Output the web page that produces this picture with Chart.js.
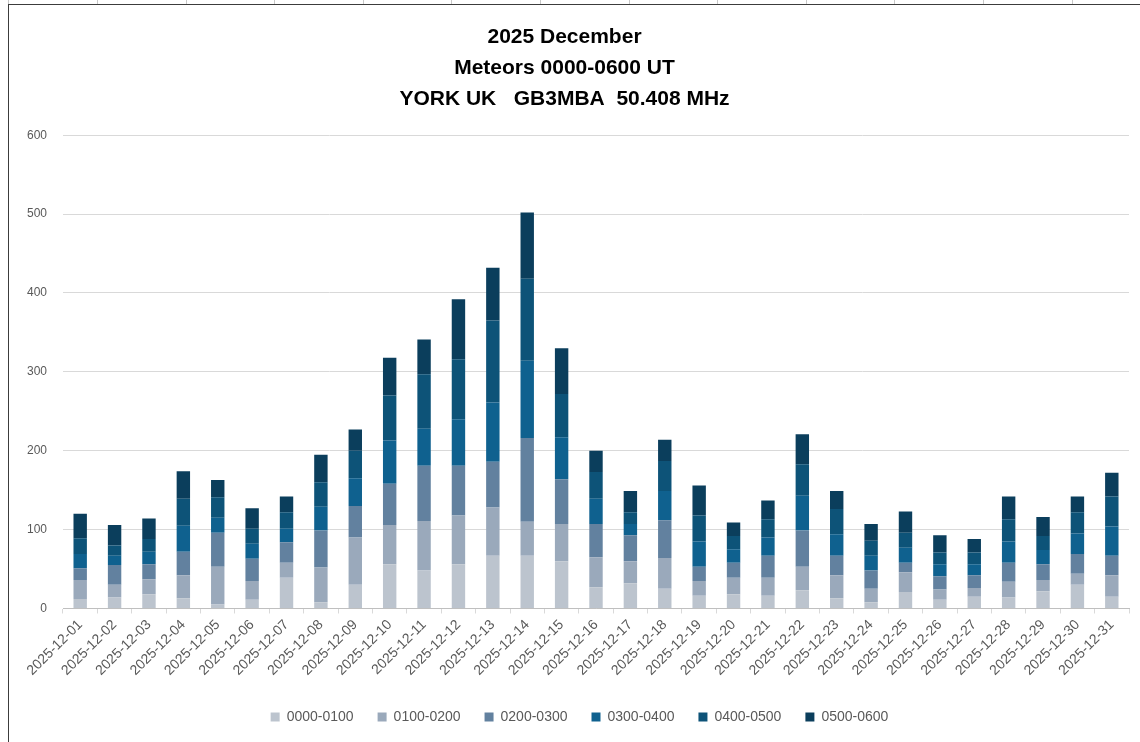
<!DOCTYPE html>
<html>
<head>
<meta charset="utf-8">
<title>Meteors December 2025</title>
<script src="https://cdn.jsdelivr.net/npm/chart.js@4.4.1/dist/chart.umd.min.js"></script>
<style>
  html, body { margin: 0; padding: 0; background: #fff; }
  body { width: 1140px; height: 742px; position: relative; overflow: hidden; }
  /* spreadsheet column lines peeking above the chart box */
  #cols {
    position: absolute; left: 0; top: 0; width: 1140px; height: 5px;
    background: repeating-linear-gradient(90deg, transparent 0 8.4px, #c8c8c8 8.4px 9.4px, transparent 9.4px 88.6px);
  }
  #box {
    position: absolute; left: 8px; top: 4px; width: 1140px; height: 745px;
    border: 1px solid #3c3c3c; background: #fff;
  }
  #myChart { position: absolute; left: 0; top: 0; }
</style>
</head>
<body>
<div id="cols"></div>
<div id="box"></div>
<canvas id="myChart" width="1140" height="742"></canvas>
<script>
// Dates of the month
const days = [
  "2025-12-01", "2025-12-02", "2025-12-03", "2025-12-04", "2025-12-05", "2025-12-06",
  "2025-12-07", "2025-12-08", "2025-12-09", "2025-12-10", "2025-12-11", "2025-12-12",
  "2025-12-13", "2025-12-14", "2025-12-15", "2025-12-16", "2025-12-17", "2025-12-18",
  "2025-12-19", "2025-12-20", "2025-12-21", "2025-12-22", "2025-12-23", "2025-12-24",
  "2025-12-25", "2025-12-26", "2025-12-27", "2025-12-28", "2025-12-29", "2025-12-30",
  "2025-12-31"
];

// Meteor counts per hour slot, one value per day
const h0000 = [12, 14, 18, 13, 5, 11, 39, 8, 30, 56, 48, 56, 67, 67, 60, 27, 32, 25, 16, 18, 16, 23, 13, 8, 21, 11, 15, 14, 22, 30, 15];
const h0100 = [24, 16, 19, 29, 48, 24, 19, 44, 60, 50, 63, 62, 61, 43, 47, 38, 28, 39, 19, 21, 23, 30, 29, 17, 25, 13, 11, 20, 14, 14, 27];
const h0200 = [15, 25, 19, 30, 43, 28, 26, 47, 40, 52, 70, 63, 58, 106, 57, 42, 33, 48, 18, 19, 28, 46, 25, 23, 12, 17, 16, 24, 20, 25, 25];
const h0300 = [18, 12, 16, 33, 19, 19, 17, 30, 35, 55, 47, 59, 75, 98, 53, 32, 14, 37, 32, 17, 23, 44, 27, 19, 19, 15, 14, 27, 18, 26, 37];
const h0400 = [20, 13, 16, 34, 26, 19, 21, 31, 35, 57, 69, 76, 104, 104, 55, 34, 15, 38, 33, 17, 23, 40, 32, 19, 19, 15, 15, 28, 18, 27, 38];
const h0500 = [31, 26, 26, 35, 22, 26, 20, 35, 27, 48, 44, 76, 67, 84, 58, 27, 27, 27, 38, 17, 24, 38, 23, 21, 27, 22, 17, 29, 24, 20, 30];

const slotNames = ["0000-0100", "0100-0200", "0200-0300", "0300-0400", "0400-0500", "0500-0600"];
const slotValues = [h0000, h0100, h0200, h0300, h0400, h0500];
const slotColors = ["#bcc4ce", "#9aa9bb", "#62819f", "#0f618f", "#0d5378", "#0b3e5c"];

const yTicks = [0, 100, 200, 300, 400, 500, 600];

const grey = "#595959";
const fontFamily = "'Liberation Sans', Arial, sans-serif";

let datasets = slotNames.map((name, i) => ({
    label: name,
    data: slotValues[i],
    backgroundColor: slotColors[i],
    borderWidth: 0,
    categoryPercentage: 1,
    barPercentage: 0.39
}));

// nudge the legend a bit to the right of the canvas centre
const legendShift = {
    id: "legendShift",
    afterLayout(chart) {
        chart.legend.left += 15;
        chart.legend.right += 15;
    }
};

new Chart("myChart", {
    type: "bar",
    data: { labels: days, datasets: datasets },
    plugins: [legendShift],
    options: {
        responsive: false,
        animation: false,
        layout: { padding: { left: 0, right: 11, top: 0, bottom: 8 } },
        plugins: {
            title: {
                display: true,
                text: ["2025 December", "Meteors 0000-0600 UT", "YORK UK   GB3MBA  50.408 MHz"],
                color: "#000",
                font: { family: fontFamily, size: 21, weight: "bold", lineHeight: 1.48 },
                padding: { top: 22, bottom: 20 }
            },
            legend: {
                position: "bottom",
                labels: {
                    color: grey,
                    boxWidth: 9,
                    boxHeight: 9,
                    padding: 24,
                    font: { family: fontFamily, size: 14 }
                }
            },
            tooltip: { enabled: false }
        },
        scales: {
            x: {
                stacked: true,
                grid: { drawOnChartArea: false, offset: true, tickLength: 5, color: "#d9d9d9" },
                border: { color: "#bfbfbf" },
                afterFit: (scale) => { scale.height += 4; },
                ticks: {
                    color: grey,
                    autoSkip: false,
                    maxRotation: 45,
                    minRotation: 45,
                    font: { family: fontFamily, size: 14 }
                }
            },
            y: {
                stacked: true,
                min: 0,
                max: 600,
                afterBuildTicks: (scale) => { scale.ticks = yTicks.map(v => ({ value: v })); },
                afterFit: (scale) => { scale.width = 63; },
                grid: { color: "#d9d9d9", drawTicks: false },
                border: { display: false },
                ticks: {
                    color: grey,
                    padding: 16,
                    font: { family: fontFamily, size: 12 }
                }
            }
        }
    }
});
</script>
</body>
</html>
